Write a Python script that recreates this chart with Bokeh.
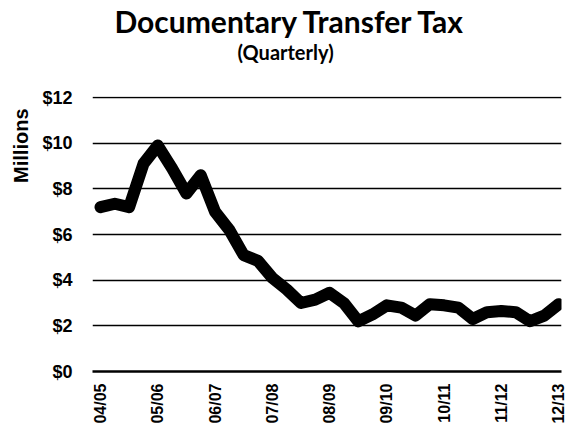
import math
from bokeh.plotting import figure
from bokeh.models import Title, FixedTicker, Range1d, ColumnDataSource
from bokeh.embed import file_html
from bokeh.resources import INLINE

# Data (millions of dollars, quarterly)
fiscal_years = ["04/05", "05/06", "06/07", "07/08", "08/09", "09/10", "10/11", "11/12", "12/13"]
quarter_index = list(range(33))
tax_millions = [7.2, 7.35, 7.2, 9.1, 9.9, 8.9, 7.8, 8.6, 7.0, 6.2, 5.1, 4.85, 4.1, 3.6, 3.0, 3.15,
                3.45, 3.0, 2.2, 2.5, 2.9, 2.8, 2.45, 2.95, 2.9, 2.8, 2.3, 2.6, 2.65, 2.6, 2.2, 2.45, 2.95]
y_ticks = [0, 2, 4, 6, 8, 10, 12]

p = figure(title=None, output_backend="svg", toolbar_location=None,
           frame_width=469, frame_height=275,
           min_border_left=92, min_border_right=5, min_border_top=96, min_border_bottom=40,
           x_range=Range1d(-0.56, 32.2), y_range=Range1d(0, 12.05))
p.outline_line_color = None
p.background_fill_color = "white"

src = ColumnDataSource(dict(x=quarter_index, y=tax_millions))
p.line("x", "y", source=src, line_color="black", line_width=12,
       line_join="round", line_cap="round")

# Axes
p.xaxis.ticker = FixedTicker(ticks=[i * 4 for i in range(len(fiscal_years))])
p.xaxis.major_label_overrides = {i * 4: lab for i, lab in enumerate(fiscal_years)}
p.xaxis.major_label_orientation = math.pi / 2
p.xaxis.major_label_text_font = "Liberation Sans"
p.xaxis.major_label_text_font_style = "bold"
p.xaxis.major_label_text_font_size = "16px"
p.xaxis.major_label_text_color = "black"
p.xaxis.major_label_standoff = 6
p.xaxis.axis_line_color = "black"
p.xaxis.axis_line_width = 2.5
p.xaxis.major_tick_line_color = None
p.xaxis.minor_tick_line_color = None
p.xgrid.grid_line_color = None

p.yaxis.ticker = FixedTicker(ticks=y_ticks)
p.yaxis.major_label_overrides = {v: "$%d" % v for v in y_ticks}
p.yaxis.major_label_text_font = "Liberation Sans"
p.yaxis.major_label_text_font_style = "bold"
p.yaxis.major_label_text_font_size = "18px"
p.yaxis.major_label_text_color = "black"
p.yaxis.major_label_standoff = 14
p.yaxis.axis_line_color = None
p.yaxis.major_tick_line_color = None
p.yaxis.minor_tick_line_color = None
p.ygrid.grid_line_color = "black"
p.ygrid.grid_line_width = 1.6

# Titles, stacked outward from the frame: blank spacer, subtitle, main title
spacer = Title(text="\u00a0", align="left", standoff=19,
               text_font="Lato", text_font_size="10px", text_color="white")
sub = Title(text="(Quarterly)", align="left", offset=145, standoff=0,
            text_font="Lato", text_font_style="bold", text_font_size="20px", text_color="black")
main = Title(text="Documentary Transfer Tax", align="left", offset=22, standoff=-2,
             text_font="Lato", text_font_style="bold", text_font_size="30px", text_color="black")
p.add_layout(spacer, "above")
p.add_layout(sub, "above")
p.add_layout(main, "above")

mill = Title(text="Millions", align="right", offset=12, standoff=15,
             text_font="Liberation Sans", text_font_style="bold", text_font_size="20px",
             text_color="black")
p.add_layout(mill, "left")

open("out.html", "w").write(file_html(p, INLINE))
